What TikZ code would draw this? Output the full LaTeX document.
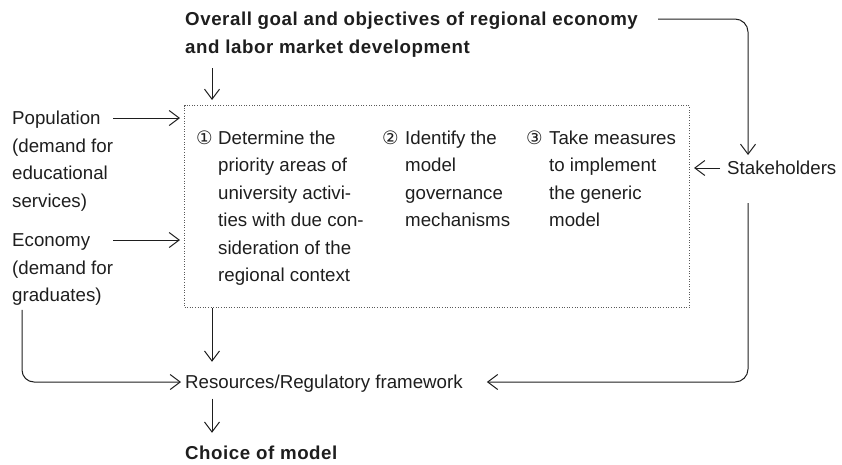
\documentclass[tikz,border=0pt]{standalone}
\usepackage{fontspec}
\usepackage{tikz}
\usetikzlibrary{arrows.meta}
\setmainfont[BoldFeatures={LetterSpace=3}]{Liberation Sans}
\newfontfamily\circfont{DejaVu Sans}
\definecolor{inkc}{HTML}{1E1E1E}
\definecolor{dotc}{HTML}{5A5A5A}

\tikzset{
  txt/.style={anchor=base west, inner sep=0pt, text=inkc},
  one/.style={txt, text height=13pt, text depth=0pt},
  num/.style={txt, font=\circfont\fontsize{18.5}{27.5}\selectfont},
  arr/.style={-{Straight Barb[length=10pt,width=15pt]}, line width=1pt, draw=inkc},
  dotbox/.style={draw=dotc, line width=1pt, dash pattern=on 1pt off 1.6pt, inner sep=0pt}
}

\begin{document}
\begin{tikzpicture}[x=1pt, y=-1pt, font=\fontsize{18.7}{27.5}\selectfont]
            \useasboundingbox (0,0) rectangle (842,464);
            % texts
            \node[txt, font=\bfseries\fontsize{18.7}{27.5}\selectfont] (goal) at (185,25.5)
                {\begin{tabular}[t]{@{}l@{}}Overall goal and objectives of regional economy\\and labor market development\end{tabular}};
            \node[txt] (pop) at (12,124.5)
                {\begin{tabular}[t]{@{}l@{}}Population\\(demand for\\educational\\services)\end{tabular}};
            \node[txt] (econ) at (12,246.5)
                {\begin{tabular}[t]{@{}l@{}}Economy\\(demand for\\graduates)\end{tabular}};
            \node[dotbox, minimum width=505pt, minimum height=202pt, anchor=north west] (box) at (184,105) {};
            \node[num] (n1) at (196,144) {①};
            \node[txt] (c1) at (218,144)
                {\begin{tabular}[t]{@{}l@{}}Determine the\\priority areas of\\university activi-\\ties with due con-\\sideration of the\\regional context\end{tabular}};
            \node[num] (n2) at (382,144) {②};
            \node[txt] (c2) at (405,144)
                {\begin{tabular}[t]{@{}l@{}}Identify the\\model\\governance\\mechanisms\end{tabular}};
            \node[num] (n3) at (526,144) {③};
            \node[txt] (c3) at (549,144)
                {\begin{tabular}[t]{@{}l@{}}Take measures\\to implement\\the generic\\model\end{tabular}};
            \node[one] (stakes) at (727,174.5) {Stakeholders};
            \node[one] (res) at (185,388.5) {Resources/Regulatory framework};
            \node[one, font=\bfseries\fontsize{18.7}{27.5}\selectfont] (choice) at (185,459.5) {Choice of model};
            % bends and free ends
            \coordinate (ga) at ([shift={(20pt,6.5pt)}]goal.base east);
            \coordinate (gb) at ([shift={(27pt,-7pt)}]goal.south west);
            \coordinate (rt) at (748,155);
            \coordinate (rb) at (748,203);
            \coordinate (popa) at ([yshift=6.5pt]pop.base east);
            \coordinate (econa) at ([yshift=6.5pt]econ.base east);
            \coordinate (econb) at ([xshift=10pt]econ.south west);
            % arrows
            \draw[arr, shorten >=5pt] (gb) -- (gb |- box.north);
            \draw[arr, rounded corners=13pt] (ga) -| (rt);
            \draw[arr, shorten >=4pt] (popa) -- (popa -| box.west);
            \draw[arr, shorten >=4pt] (econa) -- (econa -| box.west);
            \draw[arr, shorten <=7pt, shorten >=4pt] (stakes.west) -- (stakes.west -| box.east);
            \draw[arr, shorten >=13.5pt] (box.south -| gb) -- (res.north -| gb);
            \draw[arr, shorten <=10pt, shorten >=13.5pt] (res.south -| gb) -- (choice.north -| gb);
            \draw[arr, rounded corners=12pt, shorten >=4pt] (econb) |- (res.west);
            \draw[arr, rounded corners=13pt, shorten >=24pt] (rb) |- (res.east);
        \end{tikzpicture}
\end{document}
